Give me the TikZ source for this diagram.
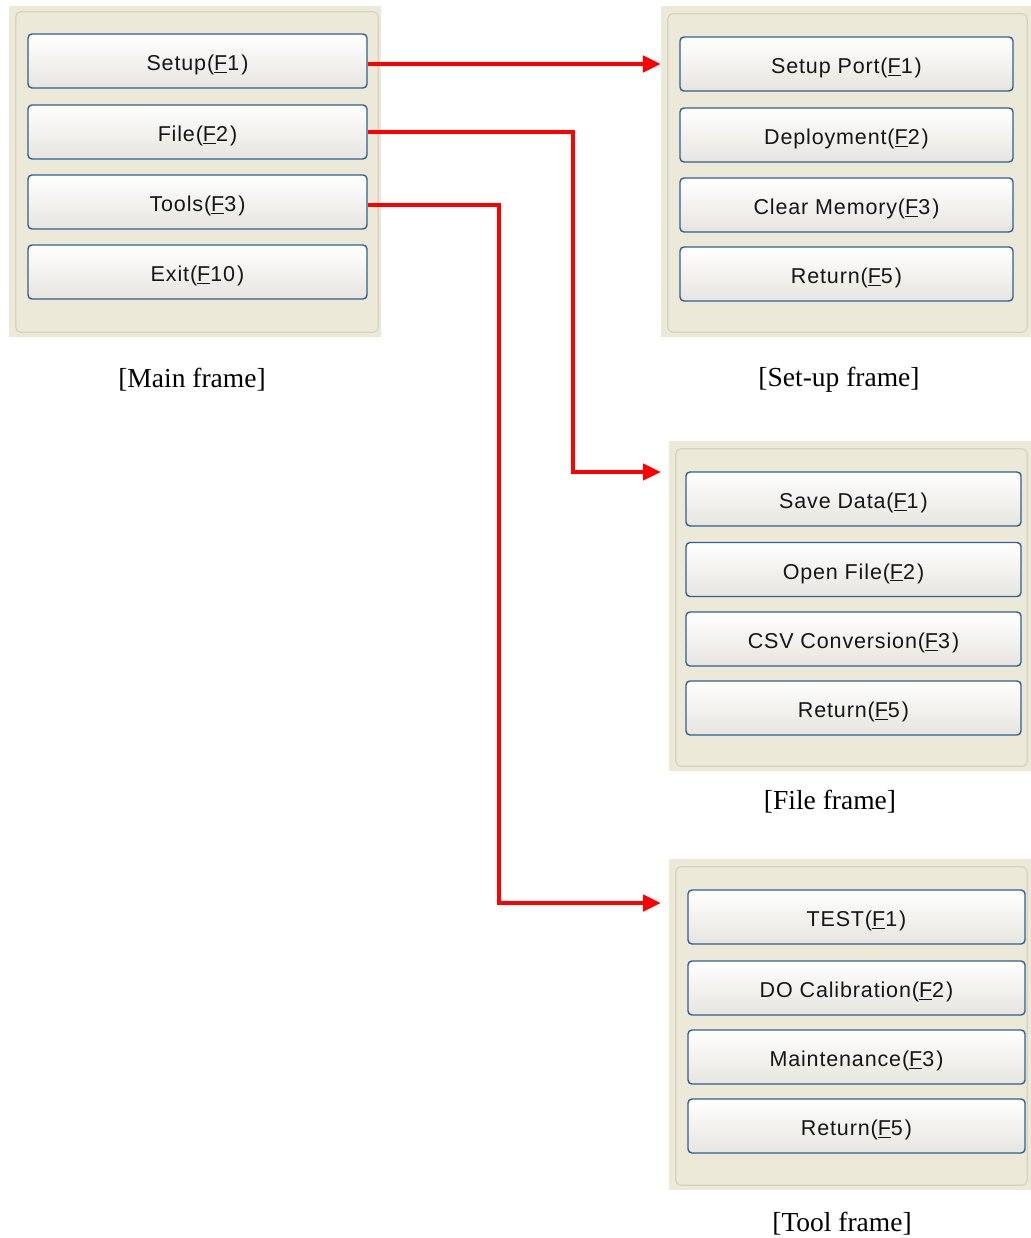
\documentclass[tikz,border=0pt]{standalone}
\usepackage{fontspec}
\setmainfont{Liberation Serif}
\newfontfamily\btnfont[LetterSpace=4]{Liberation Sans}
\usetikzlibrary{arrows.meta,calc}

\definecolor{panelbg}{HTML}{ECE9D8}
\definecolor{panelrimc}{HTML}{D6D2C2}
\definecolor{btnedge}{HTML}{2F5F93}
\definecolor{btntext}{HTML}{161616}
\definecolor{btnbottom}{HTML}{E6E5DF}

\tikzset{
  panel/.style={fill=panelbg, draw=none, inner sep=0pt},
  panelrim/.style={draw=panelrimc, line width=1.2pt, rounded corners=5pt},
  button/.style={draw=btnedge, line width=1.4pt, rounded corners=4pt,
    top color=white, bottom color=btnbottom, minimum height=54pt,
    inner sep=0pt, text=btntext, font=\btnfont\fontsize{21.5}{24}\selectfont,
    text height=19pt, text depth=0pt},
  caption/.style={font=\fontsize{27.5}{32}\selectfont, inner sep=0pt},
  menuarrow/.style={draw=red, line width=4.5pt, line join=miter,
    -{Triangle[length=18pt,width=16pt]}},
}
\newcommand{\fk}[1]{(\underline{F}#1\kern2pt)}

\begin{document}
\begin{tikzpicture}[x=1pt,y=-1pt]
  \useasboundingbox (0,0) rectangle (1030,1238);

  % panels
  \node[panel, minimum width=372pt, minimum height=331pt] (mainp) at (195,171.5) {};
  \node[panel, minimum width=373pt, minimum height=331pt] (setp) at (847.5,171.5) {};
  \node[panel, minimum width=365pt, minimum height=330pt] (filep) at (851.5,606) {};
  \node[panel, minimum width=365pt, minimum height=331pt] (toolp) at (851.5,1024.5) {};

  \draw[panelrim] ($(mainp.north west)+(7,6)$) rectangle ($(mainp.south east)+(-3,-5)$);
  \draw[panelrim] ($(setp.north west)+(7,8)$) rectangle ($(setp.south east)+(-7,-5)$);
  \draw[panelrim] ($(filep.north west)+(7,8)$) rectangle ($(filep.south east)+(-7,-5)$);
  \draw[panelrim] ($(toolp.north west)+(7,8)$) rectangle ($(toolp.south east)+(-7,-5)$);

  % main frame buttons
  \node[button, minimum width=339pt] (m1) at (197.5,61)  {Setup\fk{1}};
  \node[button, minimum width=339pt] (m2) at (197.5,132) {File\fk{2}};
  \node[button, minimum width=339pt] (m3) at (197.5,202) {Tools\fk{3}};
  \node[button, minimum width=339pt] (m4) at (197.5,272) {Exit\fk{10}};

  % set-up frame buttons
  \node[button, minimum width=333pt] (s1) at (846.5,64)  {Setup Port\fk{1}};
  \node[button, minimum width=333pt] (s2) at (846.5,135) {Deployment\fk{2}};
  \node[button, minimum width=333pt] (s3) at (846.5,205) {Clear Memory\fk{3}};
  \node[button, minimum width=333pt] (s4) at (846.5,274) {Return\fk{5}};

  % file frame buttons
  \node[button, minimum width=335pt] (f1) at (853.5,499)   {Save Data\fk{1}};
  \node[button, minimum width=335pt] (f2) at (853.5,569.5) {Open File\fk{2}};
  \node[button, minimum width=335pt] (f3) at (853.5,639)   {CSV Conversion\fk{3}};
  \node[button, minimum width=335pt] (f4) at (853.5,708)   {Return\fk{5}};

  % tool frame buttons
  \node[button, minimum width=337pt] (t1) at (856.5,917)  {TEST\fk{1}};
  \node[button, minimum width=337pt] (t2) at (856.5,988)  {DO Calibration\fk{2}};
  \node[button, minimum width=337pt] (t3) at (856.5,1057) {Maintenance\fk{3}};
  \node[button, minimum width=337pt] (t4) at (856.5,1126) {Return\fk{5}};

  % captions
  \node[caption] (capm) at (192,380)  {[Main frame]};
  \node[caption] (caps) at (839,380)  {[Set-up frame]};
  \node[caption] (capf) at (830,802)  {[File frame]};
  \node[caption] (capt) at (842,1224) {[Tool frame]};

  % connectors
  \coordinate (fin) at (661,472);
  \coordinate (tin) at (661,903);
  \coordinate (bend2) at (573,0);
  \coordinate (bend3) at (499,0);
  \draw[menuarrow] (m1.east |- s1.center) -- (setp.west |- s1.center);
  \draw[menuarrow] (m2.east) -| (bend2 |- fin) -- (fin);
  \draw[menuarrow] ([yshift=-3pt]m3.east) -| (bend3 |- tin) -- (tin);
\end{tikzpicture}
\end{document}
